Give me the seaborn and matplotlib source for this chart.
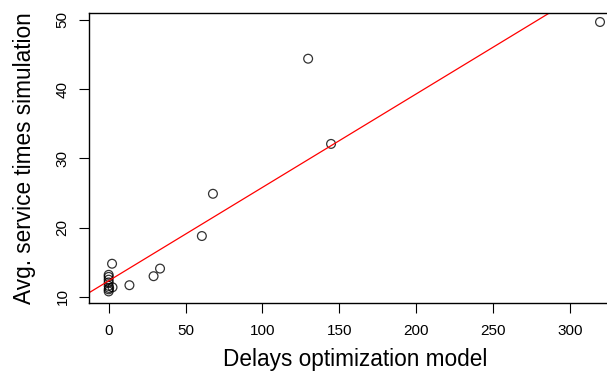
import numpy as np
import pandas as pd
import matplotlib
matplotlib.use('Agg')
import matplotlib.pyplot as plt
import seaborn as sns

sns.set_style('white')
plt.rcParams['font.family'] = ['Liberation Sans', 'DejaVu Sans']
plt.rcParams['text.color'] = 'black'
plt.rcParams['axes.labelcolor'] = 'black'
plt.rcParams['xtick.color'] = 'black'
plt.rcParams['ytick.color'] = 'black'

# values
delays = [0, 0, 0, 0, 0, 0, 0, 0.3, 2.5, 2.2, 13.5, 29.2, 33.4, 60.6, 67.8, 129.7, 144.6, 319.5]
service = [13.2, 12.9, 12.5, 12.1, 11.6, 11.1, 10.8, 11.3, 11.4, 14.8, 11.7, 13.0, 14.1, 18.8, 24.9, 44.4, 32.1, 49.7]
xticks = [0, 50, 100, 150, 200, 250, 300]
yticks = [10, 20, 30, 40, 50]

df = pd.DataFrame({'delays': delays, 'service': service})

fig = plt.figure(figsize=(6.07, 3.78), dpi=100)
# plot region runs past the right edge, like the cropped original
ax = fig.add_axes([0.1466, 0.1984, 0.8756, 0.7672])

sns.regplot(data=df, x='delays', y='service', ax=ax, ci=None, truncate=False,
            scatter_kws={'s': 40, 'facecolors': 'none', 'edgecolors': 'black', 'linewidths': 0.9},
            line_kws={'color': 'red', 'lw': 0.9}, color='black')

ax.set_xlim(-12.8, 332.8)
ax.set_ylim(9.13, 51.0)
ax.set_xticks(xticks)
ax.set_yticks(yticks)
ax.set_yticklabels([str(v) for v in yticks], rotation=90, va='center')
ax.tick_params(axis='both', direction='out', length=7, width=0.8, color='black',
               labelsize=11, labelcolor='black', bottom=True, left=True)
ax.tick_params(axis='x', pad=8)
ax.tick_params(axis='y', pad=7)
for s in ax.spines.values():
    s.set_color('black')
    s.set_linewidth(1.0)

ax.set_xlabel('Delays optimization model', fontsize=16.3, labelpad=7)
ax.set_ylabel('Avg. service times simulation', fontsize=16.3, labelpad=14)

fig.savefig('out.png', dpi=100)
